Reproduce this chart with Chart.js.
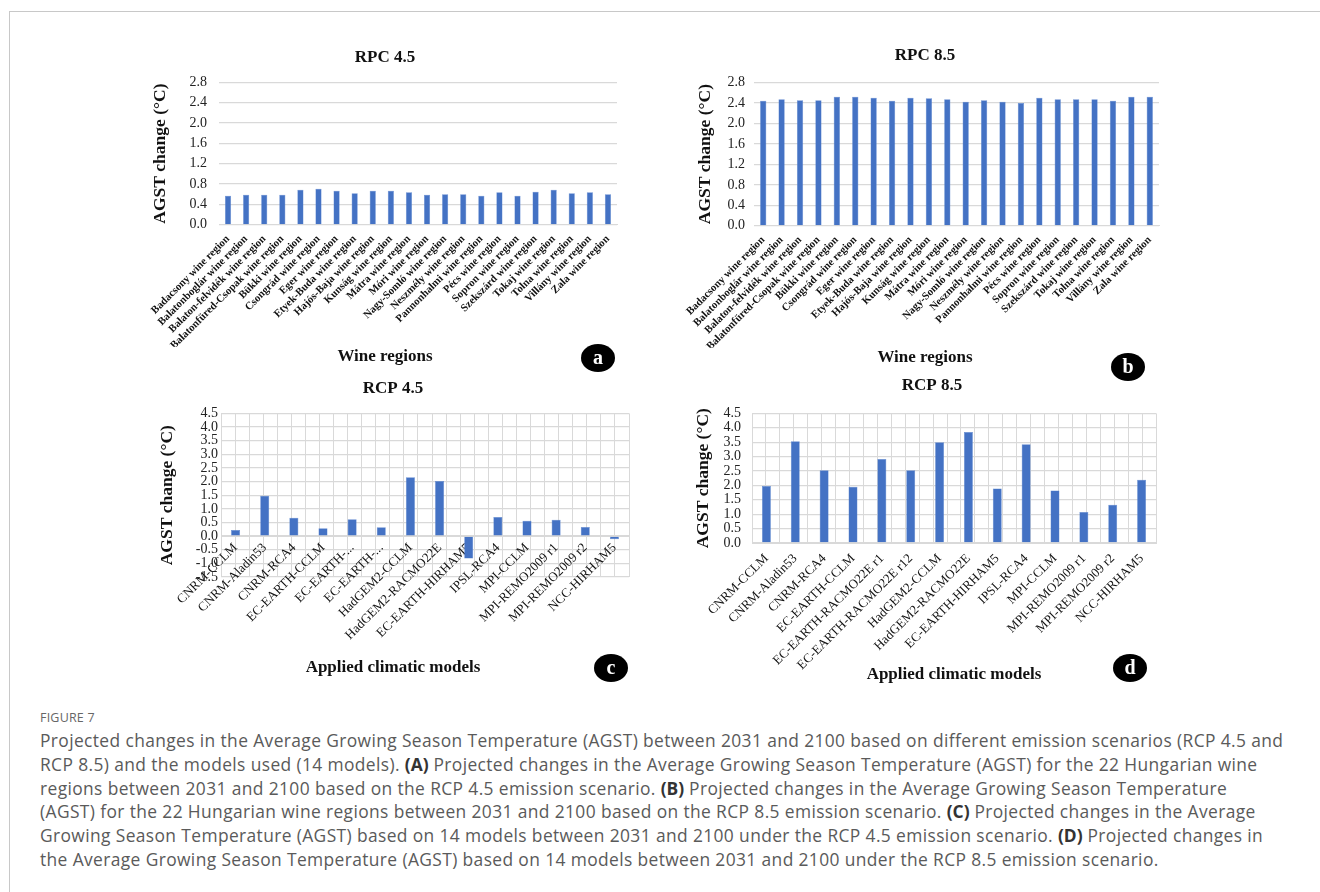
<!DOCTYPE html>
<html>
<head>
<meta charset="utf-8">
<script src="https://cdn.jsdelivr.net/npm/chart.js@4.4.0/dist/chart.umd.min.js"></script>
<style>
body { margin:0; background:#fff; width:1320px; height:892px; overflow:hidden; position:relative; }
.frame { position:absolute; left:9px; top:11px; width:1400px; height:1000px; border:1px solid #c8c8c8; }
.panel { position:absolute; }
.badge { position:absolute; width:34px; height:28px; border-radius:50%; background:#000; color:#fff;
	font:bold 20px "Liberation Serif"; text-align:center; line-height:27px; }
.fig { position:absolute; left:40px; top:709px; font:12.5px "Open Sans"; color:#666; letter-spacing:0.2px; }
.caption { position:absolute; left:40px; top:729px; font:17.4px/23.8px "Open Sans"; color:#5a5a5a; letter-spacing:0.38px; white-space:nowrap; }
.caption b { color:#333; letter-spacing:0; }
</style>
</head>
<body>
<div class="frame"></div>

<div class="panel" style="left:140px;top:40px;width:490px;height:335px"><canvas id="chartA"></canvas></div>
<div class="panel" style="left:650px;top:40px;width:525px;height:340px"><canvas id="chartB"></canvas></div>
<div class="panel" style="left:140px;top:375px;width:490px;height:315px"><canvas id="chartC"></canvas></div>
<div class="panel" style="left:650px;top:375px;width:525px;height:315px"><canvas id="chartD"></canvas></div>

<div class="badge" style="left:581px;top:344px">a</div>
<div class="badge" style="left:1111px;top:353px">b</div>
<div class="badge" style="left:594px;top:654px">c</div>
<div class="badge" style="left:1113px;top:654px">d</div>

<div class="fig">FIGURE 7</div>
<div class="caption">Projected changes in the Average Growing Season Temperature (AGST) between 2031 and 2100 based on different emission scenarios (RCP 4.5 and<br>RCP 8.5) and the models used (14 models). <b>(A)</b> Projected changes in the Average Growing Season Temperature (AGST) for the 22 Hungarian wine<br>regions between 2031 and 2100 based on the RCP 4.5 emission scenario. <b>(B)</b> Projected changes in the Average Growing Season Temperature<br>(AGST) for the 22 Hungarian wine regions between 2031 and 2100 based on the RCP 8.5 emission scenario. <b>(C)</b> Projected changes in the Average<br>Growing Season Temperature (AGST) based on 14 models between 2031 and 2100 under the RCP 4.5 emission scenario. <b>(D)</b> Projected changes in<br>the Average Growing Season Temperature (AGST) based on 14 models between 2031 and 2100 under the RCP 8.5 emission scenario.</div>

<script>
var wineRegions = ["Badacsony wine region", "Balatonboglár wine region", "Balaton-felvidék wine region",
	"Balatonfüred-Csopak wine region", "Bükki wine region", "Csongrád wine region", "Eger wine region",
	"Etyek-Buda wine region", "Hajós-Baja wine region", "Kunság wine region", "Mátra wine region",
	"Móri wine region", "Nagy-Somló wine region", "Neszmély wine region", "Pannonhalmi wine region",
	"Pécs wine region", "Sopron wine region", "Szekszárd wine region", "Tokaj wine region",
	"Tolna wine region", "Villány wine region", "Zala wine region"];
var regionsRcp45 = [0.57, 0.59, 0.59, 0.59, 0.69, 0.71, 0.67, 0.62, 0.67, 0.67, 0.64,
	0.59, 0.60, 0.60, 0.57, 0.64, 0.57, 0.65, 0.69, 0.62, 0.64, 0.60];
var regionsRcp85 = [2.44, 2.47, 2.45, 2.45, 2.52, 2.52, 2.50, 2.44, 2.50, 2.49, 2.47,
	2.42, 2.45, 2.42, 2.40, 2.50, 2.47, 2.47, 2.47, 2.44, 2.52, 2.52];

var modelsRcp45Labels = ["CNRM-CCLM", "CNRM-Aladin53", "CNRM-RCA4", "EC-EARTH-CCLM", "EC-EARTH-...",
	"EC-EARTH-...", "HadGEM2-CCLM", "HadGEM2-RACMO22E", "EC-EARTH-HIRHAM5", "IPSL-RCA4", "MPI-CCLM",
	"MPI-REMO2009 r1", "MPI-REMO2009 r2", "NCC-HIRHAM5"];
var modelsRcp85Labels = ["CNRM-CCLM", "CNRM-Aladin53", "CNRM-RCA4", "EC-EARTH-CCLM", "EC-EARTH-RACMO22E r1",
	"EC-EARTH-RACMO22E r12", "HadGEM2-CCLM", "HadGEM2-RACMO22E", "EC-EARTH-HIRHAM5", "IPSL-RCA4", "MPI-CCLM",
	"MPI-REMO2009 r1", "MPI-REMO2009 r2", "NCC-HIRHAM5"];
var modelsRcp45 = [0.22, 1.48, 0.67, 0.29, 0.62, 0.32, 2.16, 2.02, -0.82, 0.70, 0.56, 0.60, 0.33, -0.12];
var modelsRcp85 = [1.98, 3.53, 2.53, 1.95, 2.92, 2.53, 3.50, 3.85, 1.89, 3.43, 1.82, 1.08, 1.33, 2.20];

var regionTicks = [0.0, 0.4, 0.8, 1.2, 1.6, 2.0, 2.4, 2.8];
var modelTicks45 = [-1.5, -1.0, -0.5, 0.0, 0.5, 1.0, 1.5, 2.0, 2.5, 3.0, 3.5, 4.0, 4.5];
var modelTicks85 = [0.0, 0.5, 1.0, 1.5, 2.0, 2.5, 3.0, 3.5, 4.0, 4.5];

var serif = '"Liberation Serif", "Times New Roman", serif';
var gridColor = '#d9d9d9';
var barColor = '#4472C4';

function makeChart (id, p) {
	var scales = {
		x: {
			type: 'category',
			offset: true,
			position: p.axisAtZero ? { y: 0 } : 'bottom',
			grid: { display: false, drawTicks: false },
			border: { display: true, color: gridColor },
			ticks: {
				autoSkip: false, minRotation: 45, maxRotation: 45,
				padding: p.labelPad, color: '#111',
				font: { family: serif, size: p.labelSize, weight: p.labelWeight }
			},
			// the x title sits under the whole panel (subtitle) unless xTitleOnAxis
			title: {
				display: !!p.xTitleOnAxis, text: p.xTitle, color: '#111',
				font: { family: serif, size: 17, weight: 'bold' },
				padding: { top: 0, bottom: p.xTitlePad }
			},
			afterFit: function (s) { s.height = p.xHeight; }
		},
		y: {
			min: p.ticks[0],
			max: p.ticks[p.ticks.length - 1],
			grid: { color: gridColor, drawTicks: false, lineWidth: 1.3 },
			border: { display: false },
			ticks: {
				stepSize: p.ticks[1] - p.ticks[0], autoSkip: false,
				padding: p.tickPad, color: '#222',
				font: { family: serif, size: 14, lineHeight: 1 },
				callback: function (v) { return Number(v).toFixed(1); }
			},
			title: {
				display: true, text: 'AGST change (°C)', color: '#111',
				font: { family: serif, size: 17.5, weight: 'bold' },
				padding: { top: p.yTitlePad, bottom: 0 }
			},
			afterFit: function (s) { s.width = p.yWidth; }
		}
	};
	if (p.halfGrid) {
		// excel style vertical lines at category edges and centres
		scales.x2 = {
			type: 'linear', position: 'bottom', min: 0, max: p.labels.length,
			grid: { color: gridColor, drawTicks: false, lineWidth: 1 },
			border: { display: false },
			ticks: { display: false, stepSize: 0.5 },
			afterFit: function (s) { s.height = 0; }
		};
	}

	new Chart(document.getElementById(id), {
		type: 'bar',
		data: {
			labels: p.labels,
			datasets: [{
				data: p.values,
				backgroundColor: barColor,
				borderColor: '#5a86d0',
				borderWidth: 0.5,
				categoryPercentage: 1,
				barPercentage: p.barPct
			}]
		},
		options: {
			responsive: true,
			maintainAspectRatio: false,
			animation: false,
			layout: { padding: { left: p.padLeft, right: p.padRight, top: 0, bottom: 0 } },
			plugins: {
				legend: { display: false },
				title: {
					display: true, text: p.title, color: '#111',
					font: { family: serif, size: 17, weight: 'bold' },
					padding: { top: p.titleTop, bottom: p.titleBottom }
				},
				subtitle: {
					display: !p.xTitleOnAxis, position: 'bottom', text: p.xTitle, color: '#111',
					font: { family: serif, size: 17, weight: 'bold' },
					padding: { top: p.subTop || 0, bottom: p.subBottom || 0 }
				}
			},
			scales: scales
		}
	});
}

window.addEventListener("load", function () {
	makeChart('chartA', {
		title: 'RPC 4.5', labels: wineRegions, values: regionsRcp45, ticks: regionTicks,
		xTitle: 'Wine regions', labelSize: 10.8, labelWeight: 'bold', labelPad: 8,
		xHeight: 122, subTop: 0, subBottom: 7.8, yWidth: 66, yTitlePad: -3.5, tickPad: 12,
		padLeft: 13, padRight: 13, titleTop: 7, titleBottom: 15, barPct: 0.34, halfGrid: false
	});
	makeChart('chartB', {
		title: 'RPC 8.5', labels: wineRegions, values: regionsRcp85, ticks: regionTicks,
		xTitle: 'Wine regions', labelSize: 10.8, labelWeight: 'bold', labelPad: 8,
		xHeight: 122, subTop: 0, subBottom: 11.8, yWidth: 63, yTitlePad: 3.5, tickPad: 9,
		padLeft: 41, padRight: 16, titleTop: 5, titleBottom: 17, barPct: 0.34, halfGrid: false
	});
	// panel c: category labels hang from the zero line, like the original
	makeChart('chartC', {
		title: 'RCP 4.5', labels: modelsRcp45Labels, values: modelsRcp45, ticks: modelTicks45,
		xTitle: 'Applied climatic models', labelSize: 13, labelWeight: 'normal', labelPad: 4,
		xHeight: 142, subTop: 80.8, subBottom: 11.8, yWidth: 64, yTitlePad: -0.5, tickPad: 3,
		padLeft: 17, padRight: 1, titleTop: 3, titleBottom: 15, barPct: 0.31, halfGrid: true, axisAtZero: true
	});
	makeChart('chartD', {
		title: 'RCP 8.5', labels: modelsRcp85Labels, values: modelsRcp85, ticks: modelTicks85,
		xTitle: 'Applied climatic models', labelSize: 13, labelWeight: 'normal', labelPad: 8,
		xTitleOnAxis: true, xHeight: 147, xTitlePad: 5, yWidth: 44, yTitlePad: -15.5, tickPad: 11,
		padLeft: 58, padRight: 19, titleTop: 0, titleBottom: 18, barPct: 0.31, halfGrid: true
	});
});
</script>
</body>
</html>
